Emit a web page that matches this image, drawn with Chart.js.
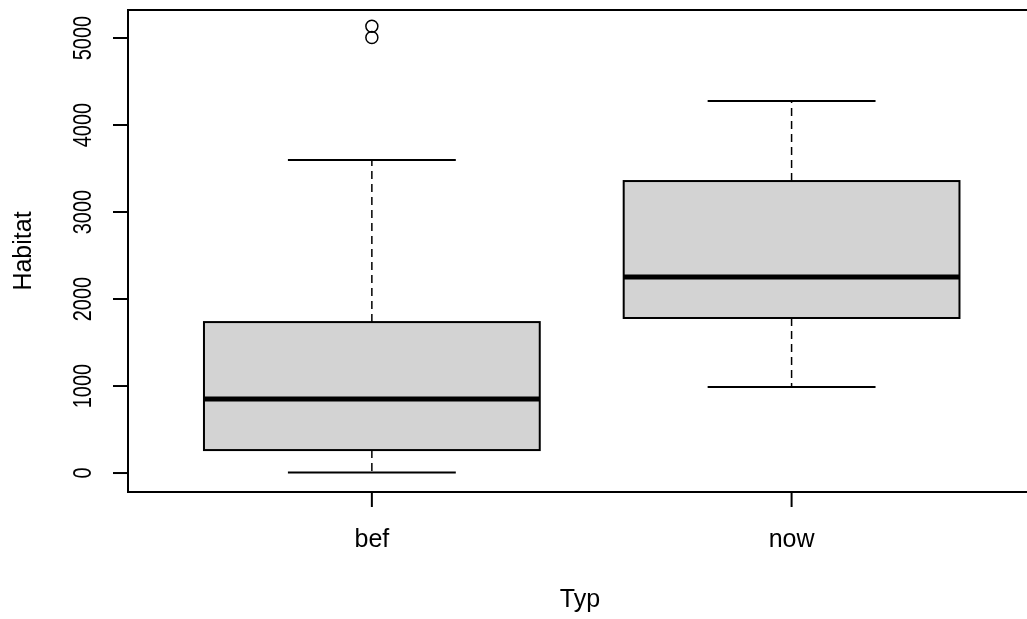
<!DOCTYPE html>
<html>
<head>
<meta charset="utf-8">
<script src="https://cdn.jsdelivr.net/npm/chart.js@4/dist/chart.umd.min.js"></script>
<style>
  html, body { margin: 0; background: #fff; overflow: hidden; }
</style>
</head>
<body>
<canvas id="boxChart" width="1027" height="619"></canvas>
<script>
// boxplot stats
const categories = ['bef', 'now'];
const whiskLow = [5, 989];
const q1 = [264, 1782];
const medians = [850, 2253];
const q3 = [1735, 3356];
const whiskHigh = [3598, 4276];
const outliers = [[5006, 5136], []];
const yTicks = [0, 1000, 2000, 3000, 4000, 5000];

const FONT = '25px "Liberation Sans", Arial, sans-serif';
const INK = '#000';

// outlier points as a scatter dataset
const outlierPoints = [];
outliers.forEach((vals, i) => {
  vals.forEach(v => outlierPoints.push({ x: i + 1, y: v }));
});

// boxes, whiskers and medians
const boxPlugin = {
  id: 'boxPlugin',
  beforeDatasetsDraw(chart) {
    const ctx = chart.ctx;
    const x = chart.scales.x, y = chart.scales.y;
    ctx.save();
    categories.forEach((c, i) => {
      const pos = i + 1;
      const left = x.getPixelForValue(pos - 0.4);
      const right = x.getPixelForValue(pos + 0.4);
      const mid = x.getPixelForValue(pos);
      const sl = x.getPixelForValue(pos - 0.2);
      const sr = x.getPixelForValue(pos + 0.2);
      const top = y.getPixelForValue(q3[i]);
      const bot = y.getPixelForValue(q1[i]);
      const hi = y.getPixelForValue(whiskHigh[i]);
      const lo = y.getPixelForValue(whiskLow[i]);

      // dashed whiskers
      ctx.strokeStyle = INK;
      ctx.lineWidth = 1.5;
      ctx.setLineDash([8, 5]);
      ctx.beginPath();
      ctx.moveTo(mid, top);
      ctx.lineTo(mid, hi);
      ctx.moveTo(mid, bot);
      ctx.lineTo(mid, lo);
      ctx.stroke();
      ctx.setLineDash([]);

      // staples
      ctx.lineWidth = 2;
      ctx.beginPath();
      ctx.moveTo(sl, hi);
      ctx.lineTo(sr, hi);
      ctx.moveTo(sl, lo);
      ctx.lineTo(sr, lo);
      ctx.stroke();

      // box
      ctx.fillStyle = '#d3d3d3';
      ctx.fillRect(left, top, right - left, bot - top);
      ctx.lineWidth = 2;
      ctx.strokeRect(left, top, right - left, bot - top);

      // median
      ctx.lineWidth = 5;
      ctx.beginPath();
      ctx.moveTo(left, y.getPixelForValue(medians[i]));
      ctx.lineTo(right, y.getPixelForValue(medians[i]));
      ctx.stroke();
    });
    ctx.restore();
  },
  afterDraw(chart) {
    const ctx = chart.ctx;
    const area = chart.chartArea;
    const x = chart.scales.x, y = chart.scales.y;
    ctx.save();
    ctx.strokeStyle = INK;
    ctx.fillStyle = INK;
    ctx.lineWidth = 2;
    // frame, right side runs past the picture edge
    ctx.beginPath();
    ctx.moveTo(chart.width + 5, area.top);
    ctx.lineTo(area.left, area.top);
    ctx.lineTo(area.left, area.bottom);
    ctx.lineTo(chart.width + 5, area.bottom);
    ctx.stroke();

    // y ticks + rotated labels
    ctx.font = FONT;
    ctx.textAlign = 'center';
    ctx.textBaseline = 'alphabetic';
    yTicks.forEach(t => {
      const py = y.getPixelForValue(t);
      ctx.beginPath();
      ctx.moveTo(area.left, py);
      ctx.lineTo(area.left - 15, py);
      ctx.stroke();
      ctx.save();
      ctx.translate(91, py);
      ctx.rotate(-Math.PI / 2);
      ctx.scale(0.8, 1);
      ctx.fillText(String(t), 0, 0);
      ctx.restore();
    });

    // x ticks + labels
    categories.forEach((c, i) => {
      const px = x.getPixelForValue(i + 1);
      ctx.beginPath();
      ctx.moveTo(px, area.bottom);
      ctx.lineTo(px, area.bottom + 15);
      ctx.stroke();
      ctx.fillText(c, px, 547);
    });

    // axis titles
    ctx.fillText('Typ', 580, 607);
    ctx.save();
    ctx.translate(31, (area.top + area.bottom) / 2);
    ctx.rotate(-Math.PI / 2);
    ctx.fillText('Habitat', 0, 0);
    ctx.restore();
    ctx.restore();
  }
};

const ctx = document.getElementById('boxChart');
const boxChart = new Chart(ctx, {
  type: 'scatter',
  data: {
    datasets: [{
      label: 'outliers',
      data: outlierPoints,
      pointStyle: 'circle',
      pointRadius: 6,
      pointBorderWidth: 1.5,
      borderColor: INK,
      backgroundColor: 'rgba(0,0,0,0)'
    }]
  },
  options: {
    responsive: false,
    animation: false,
    layout: { padding: { left: 128, top: 10, right: 0, bottom: 127 } },
    plugins: { legend: { display: false }, tooltip: { enabled: false } },
    scales: {
      x: { type: 'linear', display: false, min: 0.419, max: 2.543 },
      y: { type: 'linear', display: false, min: -218, max: 5322 }
    }
  },
  plugins: [boxPlugin]
});
</script>
</body>
</html>
